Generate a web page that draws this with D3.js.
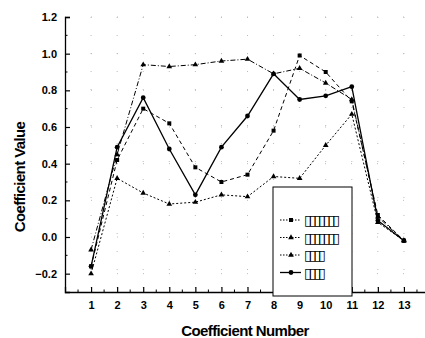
<!DOCTYPE html>
<html>
<head>
<meta charset="utf-8">
<script src="https://cdn.jsdelivr.net/npm/d3@7"></script>
<style>
  body { margin: 0; background: #fff; }
  svg { display: block; font-family: "Liberation Sans", Arial, sans-serif; }
</style>
</head>
<body>
<div id="chart"></div>
<script>
const width = 425, height = 338;

// data
const coeffNumbers = [1, 2, 3, 4, 5, 6, 7, 8, 9, 10, 11, 12, 13];
const seriesNames = ["▯▯▯▯▯▯▯", "▯▯▯▯▯▯▯", "▯▯▯▯", "▯▯▯▯"];
const squareVals   = [-0.16, 0.42, 0.70, 0.62, 0.38, 0.30, 0.34, 0.58, 0.99, 0.90, 0.74, 0.12, -0.02];
const triDashVals  = [-0.07, 0.45, 0.94, 0.93, 0.94, 0.96, 0.97, 0.89, 0.92, 0.84, 0.75, 0.11, -0.02];
const triDotVals   = [-0.20, 0.32, 0.24, 0.18, 0.19, 0.23, 0.22, 0.33, 0.32, 0.50, 0.67, 0.08, -0.02];
const circleVals   = [-0.16, 0.49, 0.76, 0.48, 0.23, 0.49, 0.66, 0.89, 0.75, 0.77, 0.82, 0.09, -0.02];
const yTicks = [-0.2, 0.0, 0.2, 0.4, 0.6, 0.8, 1.0, 1.2];

const series = [
  { name: seriesNames[0], values: squareVals,  dash: "4,3",       marker: d3.symbolSquare,   size: 16, width: 1 },
  { name: seriesNames[1], values: triDashVals, dash: "5,2,1,2",   marker: d3.symbolTriangle, size: 14, width: 1 },
  { name: seriesNames[2], values: triDotVals,  dash: "2,2",       marker: d3.symbolTriangle, size: 14, width: 1 },
  { name: seriesNames[3], values: circleVals,  dash: null,        marker: d3.symbolCircle,   size: 18, width: 1.3 }
];

const svg = d3.select("#chart").append("svg")
  .attr("width", width).attr("height", height);

svg.append("rect").attr("width", width).attr("height", height).attr("fill", "#fff");

const x = d3.scaleLinear().domain([0, 14]).range([65, 430]);
const y = d3.scaleLinear().domain([-0.3, 1.2]).range([292, 17]);

// sparse dotted grid
const grid = svg.append("g").attr("stroke", "#bbb").attr("stroke-width", 1);
grid.selectAll(".gx").data(coeffNumbers).join("line")
  .attr("x1", d => x(d)).attr("x2", d => x(d))
  .attr("y1", y(1.2)).attr("y2", y(-0.3))
  .attr("stroke-dasharray", "1,17");
grid.selectAll(".gy").data(yTicks).join("line")
  .attr("x1", x(0)).attr("x2", x(14))
  .attr("y1", d => y(d)).attr("y2", d => y(d))
  .attr("stroke-dasharray", "1,25");

// axes with inward ticks
const xAxis = d3.axisBottom(x).tickValues(coeffNumbers).tickSize(-5).tickPadding(9).tickFormat(d3.format("d"));
const gx = svg.append("g").attr("transform", `translate(0,${y(-0.3)})`).call(xAxis);
const xMinor = d3.range(0.5, 14, 1);
gx.selectAll(".minor").data(xMinor).join("line")
  .attr("x1", d => x(d)).attr("x2", d => x(d)).attr("y1", 0).attr("y2", -2.5)
  .attr("stroke", "#000");

const yAxis = d3.axisLeft(y).tickValues(yTicks).tickSize(-5).tickPadding(8).tickFormat(d3.format(".1f"));
const gy = svg.append("g").attr("transform", `translate(${x(0)},0)`).call(yAxis);
const yMinor = d3.range(-0.1, 1.2, 0.2);
gy.selectAll(".minor").data(yMinor).join("line")
  .attr("y1", d => y(d)).attr("y2", d => y(d)).attr("x1", 0).attr("x2", 2.5)
  .attr("stroke", "#000");

[gx, gy].forEach(g => {
  g.select(".domain").attr("stroke", "#000").attr("stroke-width", 1.3);
  g.selectAll(".tick line").attr("stroke", "#000").attr("stroke-width", 1.2);
  g.selectAll("text").attr("font-size", 11).attr("font-weight", "bold")
    .attr("font-family", "Liberation Sans, Arial, sans-serif").attr("fill", "#000");
});

// lines and markers
const line = d3.line().x((d, i) => x(coeffNumbers[i])).y(d => y(d));
series.forEach(s => {
  svg.append("path").datum(s.values)
    .attr("d", line).attr("fill", "none").attr("stroke", "#000")
    .attr("stroke-width", s.width)
    .attr("stroke-dasharray", s.dash);
  svg.append("g").selectAll("path").data(s.values).join("path")
    .attr("transform", (d, i) => `translate(${x(coeffNumbers[i])},${y(d)})`)
    .attr("d", d3.symbol(s.marker, s.size)).attr("fill", "#000");
});

// legend box covering part of the axis
const lg = svg.append("g").attr("transform", "translate(273,187)");
lg.append("rect").attr("width", 79).attr("height", 109)
  .attr("fill", "#fff").attr("stroke", "#000").attr("stroke-width", 1);
series.forEach((s, i) => {
  const ly = 33 + i * 17.5;
  lg.append("line").attr("x1", 7).attr("x2", 28).attr("y1", ly).attr("y2", ly)
    .attr("stroke", "#000").attr("stroke-width", s.width).attr("stroke-dasharray", s.dash ? "1.5,1.5" : null);
  lg.append("path").attr("transform", `translate(18,${ly})`)
    .attr("d", d3.symbol(s.marker, s.size)).attr("fill", "#000");
  lg.append("text").attr("x", 31).attr("y", ly + 5)
    .attr("font-size", 14).attr("font-weight", "bold").attr("letter-spacing", -3)
    .attr("font-family", "DejaVu Sans, sans-serif")
    .text(s.name);
});

// axis titles
svg.append("text")
  .attr("x", 245).attr("y", 336)
  .attr("text-anchor", "middle")
  .attr("font-size", 15).attr("letter-spacing", -0.6)
  .attr("font-weight", "bold")
  .text("Coefficient Number");

svg.append("text")
  .attr("transform", "translate(25,177) rotate(-90)")
  .attr("text-anchor", "middle")
  .attr("font-size", 15).attr("letter-spacing", -0.6)
  .attr("font-weight", "bold")
  .text("Coefficient Value");
</script>
</body>
</html>
